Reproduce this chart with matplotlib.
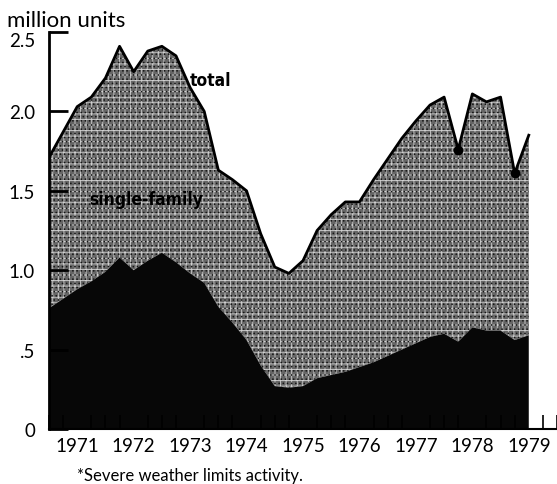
import numpy as np
import matplotlib
matplotlib.use('Agg')
import matplotlib.pyplot as plt

# quarterly housing starts, million units
start_year = 1971
total = [1.71, 1.87, 2.03, 2.09, 2.21, 2.41, 2.25, 2.38, 2.41, 2.35,
         2.15, 2.00, 1.63, 1.57, 1.50, 1.23, 1.02, 0.98, 1.06, 1.25,
         1.35, 1.43, 1.43, 1.57, 1.70, 1.83, 1.94, 2.04, 2.09, 1.76,
         2.11, 2.06, 2.09, 1.61, 1.85]
multi_family = [0.76, 0.82, 0.88, 0.93, 0.99, 1.08, 1.00, 1.06, 1.11, 1.05,
                0.98, 0.92, 0.77, 0.67, 0.56, 0.40, 0.27, 0.26, 0.27, 0.32,
                0.34, 0.36, 0.39, 0.42, 0.46, 0.50, 0.54, 0.58, 0.60, 0.55,
                0.64, 0.62, 0.62, 0.56, 0.59]
weather_idx = [29, 33]  # quarters hit by severe weather
years = ['1971', '1972', '1973', '1974', '1975', '1976', '1977', '1978', '1979']
y_ticks = [0, 0.5, 1.0, 1.5, 2.0, 2.5]
y_labels = ['0', '.5', '1.0', '1.5', '2.0', '2.5']

x = start_year + 0.25 * np.arange(len(total))
total = np.array(total)
multi_family = np.array(multi_family)

plt.rcParams['hatch.linewidth'] = 0.6
plt.rcParams['font.family'] = ['Lato', 'DejaVu Sans']

fig = plt.figure(figsize=(5.57, 4.85), dpi=100)
ax = fig.add_axes([49 / 557, 1 - 430 / 485, 508 / 557, 397 / 485])

# grey stippled single-family band (grid + dots), black multi-family band
ax.fill_between(x, multi_family, total, facecolor='#666666',
                edgecolor='#cfcfcf', hatch='+++', linewidth=0, zorder=1)
ax.fill_between(x, multi_family, total, facecolor='none',
                edgecolor='#151515', hatch='....', linewidth=0, zorder=1.5)
ax.fill_between(x, 0, multi_family, facecolor='#070707', linewidth=0, zorder=2)
ax.plot(x, total, color='black', linewidth=2, zorder=3)
ax.plot(x[weather_idx], total[weather_idx], 'o', color='black',
        markersize=6, zorder=4)

ax.set_xlim(1971, 1980)
ax.set_ylim(0, 2.5)

ax.spines['top'].set_visible(False)
ax.spines['right'].set_visible(False)
ax.spines['left'].set_linewidth(2)
ax.spines['bottom'].set_linewidth(1.5)
ax.spines['left'].set_zorder(6)
ax.spines['bottom'].set_zorder(6)

ax.set_xticks([int(y) + 0.5 for y in years])
ax.set_xticklabels(years, fontsize=13.5)
ax.set_xticks(start_year + 0.25 * np.arange(37), minor=True)
ax.tick_params(axis='x', which='major', length=0, pad=6)
ax.tick_params(axis='x', which='minor', direction='in', length=10, width=1.2)

ax.set_yticks(y_ticks)
ax.set_yticklabels(y_labels, fontsize=13.5)
ax.tick_params(axis='y', direction='in', length=14, width=2, color='black', pad=10)
ax.get_yticklabels()[-1].set_va('top')
ax.yaxis.set_zorder(6)
ax.xaxis.set_zorder(6)

ax.text(1973.5, 2.2, 'total', fontsize=12.5, fontweight='heavy',
        fontstretch='condensed', family='DejaVu Sans', va='center', zorder=7)
ax.text(1972.73, 1.45, 'single-family', fontsize=12.5, fontweight='heavy',
        fontstretch='condensed', family='DejaVu Sans', ha='center',
        va='center', color='black', zorder=7)

fig.text(7 / 557, 1 - 21 / 485, 'million units', fontsize=16, va='center')
fig.text(77 / 557, 1 - 476 / 485, '*Severe weather limits activity.',
         fontsize=12, va='center')

fig.savefig('out.png', dpi=100)
